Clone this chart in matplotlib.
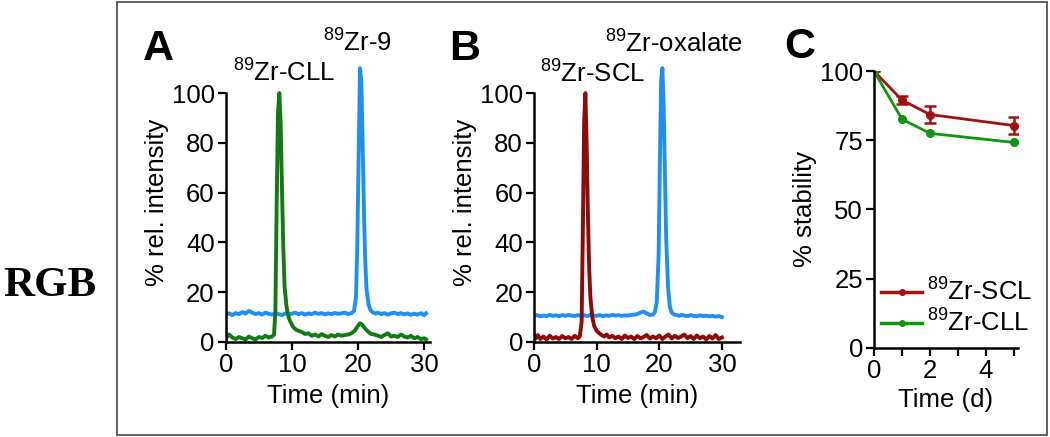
import matplotlib
matplotlib.use('Agg')
import matplotlib.pyplot as plt
from matplotlib.patches import Rectangle
from matplotlib.lines import Line2D
from matplotlib.ticker import MultipleLocator

plt.rcParams['font.family'] = ['Liberation Sans', 'DejaVu Sans']
plt.rcParams['mathtext.fontset'] = 'custom'
plt.rcParams['mathtext.rm'] = 'Liberation Sans'
plt.rcParams['mathtext.it'] = 'Liberation Sans'

# Panel A: 89Zr-9 (blue) and 89Zr-CLL (green) radio-HPLC traces
a_blue_t = [0, 0.5, 1, 1.5, 2, 2.5, 3, 3.5, 4, 4.5,
            5, 5.5, 6, 6.5, 7, 7.5, 8, 8.5, 9, 9.5,
            10, 10.5, 11, 11.5, 12, 12.5, 13, 13.5, 14, 14.5,
            15, 15.5, 16, 16.5, 17, 17.5, 18, 18.5, 19, 19.4,
            19.7, 19.9, 20.1, 20.3, 20.5, 20.7, 20.9, 21.1, 21.3, 21.6,
            21.9, 22.3, 22.7, 23, 23.5, 24, 24.5, 25, 25.5, 26,
            26.5, 27, 27.5, 28, 28.5, 29, 29.5, 30, 30.3]
a_blue_v = [11, 11.5, 10.8, 11.6, 11.2, 12, 11.4, 12.5, 11.8, 11.2,
            11.6, 11, 11.8, 11.3, 11, 11.6, 11.2, 10.8, 11.5, 11,
            11.4, 11.8, 11.2, 11.6, 11, 11.5, 11.2, 11.8, 11.3, 11.6,
            11.1, 11.5, 11.2, 11.7, 11.3, 11.5, 11.8, 11.2, 11.6, 12.5,
            18, 40, 75, 110, 105, 80, 52, 32, 21, 15,
            12.8, 11.8, 11.4, 11.8, 11.2, 11.6, 11, 11.5, 11.8, 11.2,
            11.6, 11.1, 11.5, 10.9, 11.4, 11, 11.6, 10.8, 11.5]

a_green_t = [0, 0.5, 1, 1.5, 2, 2.5, 3, 3.5, 4, 4.5,
             5, 5.5, 6, 6.5, 7, 7.3, 7.5, 7.7, 7.9, 8.1,
             8.3, 8.5, 8.7, 8.9, 9.2, 9.5, 9.8, 10.2, 10.6, 11,
             11.5, 12, 12.5, 13, 13.5, 14, 14.5, 15, 15.5, 16,
             16.5, 17, 17.5, 18, 18.5, 19, 19.5, 20, 20.3, 20.6,
             20.9, 21.2, 21.6, 22, 22.5, 23, 23.5, 24, 24.5, 25,
             25.5, 26, 26.5, 27, 27.5, 28, 28.5, 29, 29.5, 30,
             30.3]
a_green_v = [1.5, 3, 1.8, 1.2, 2, 1.5, 1, 2.2, 1.5, 1,
             2, 1.6, 2.5, 1.8, 2.2, 3, 12, 55, 92, 100,
             88, 62, 38, 22, 14, 10, 8, 6, 5, 4.5,
             4, 3.2, 3.5, 2.5, 3, 2.2, 3.2, 2.5, 2, 2.8,
             2.2, 3, 2.5, 2.8, 3, 3.5, 4.5, 6.5, 7.5, 7,
             6, 5, 4, 3.2, 3, 2.5, 2, 2.8, 3.5, 2.2,
             2.5, 2, 3, 2.2, 1.8, 2.5, 1.5, 2, 1.2, 1.5,
             1]

# Panel B: 89Zr-oxalate (blue) and 89Zr-SCL (red)
b_blue_t = [0, 0.5, 1, 1.5, 2, 2.5, 3, 3.5, 4, 4.5,
            5, 5.5, 6, 6.5, 7, 7.5, 8, 8.5, 9, 9.5,
            10, 10.5, 11, 11.5, 12, 12.5, 13, 13.5, 14, 14.5,
            15, 15.5, 16, 16.5, 17, 17.5, 18, 18.5, 19, 19.3,
            19.6, 19.9, 20.1, 20.3, 20.5, 20.7, 20.9, 21.1, 21.4, 21.7,
            22, 22.4, 22.8, 23.2, 23.6, 24, 24.5, 25, 25.5, 26,
            26.5, 27, 27.5, 28, 28.5, 29, 29.5, 30]
b_blue_v = [10.5, 10.8, 10.3, 10.6, 10.4, 10.9, 10.5, 10.7, 10.4, 10.8,
            10.5, 10.9, 10.6, 10.4, 10.8, 10.5, 10.7, 10.4, 10.9, 10.6,
            10.5, 10.8, 10.4, 10.7, 10.5, 10.9, 10.6, 10.8, 10.5, 10.7,
            10.6, 10.9, 11, 11.2, 11.8, 12.2, 11.5, 10.9, 11, 12,
            16, 35, 72, 105, 110, 95, 68, 42, 22, 14,
            11.8, 11, 10.8, 10.5, 10.9, 10.6, 10.4, 10.8, 10.5, 10.3,
            10.7, 10.4, 10.6, 10.3, 10.5, 10.2, 10.4, 10]

b_red_t = [0, 0.3, 0.6, 1, 1.5, 2, 2.5, 3, 3.5, 4,
           4.5, 5, 5.5, 6, 6.5, 7, 7.3, 7.6, 7.8, 8.0,
           8.2, 8.4, 8.6, 8.8, 9.0, 9.3, 9.6, 10, 10.4, 10.8,
           11.2, 11.6, 12, 12.5, 13, 13.5, 14, 14.5, 15, 15.5,
           16, 16.5, 17, 17.5, 18, 18.5, 19, 19.5, 20, 20.5,
           21, 21.5, 22, 22.5, 23, 23.5, 24, 24.5, 25, 25.5,
           26, 26.5, 27, 27.5, 28, 28.5, 29, 29.5, 30]
b_red_v = [3, 1.5, 2.8, 1.2, 2.2, 1, 2.5, 1.4, 2, 1.2,
           2.4, 1.5, 2, 1.2, 2.5, 1.5, 2.2, 8, 45, 88,
           100, 80, 52, 30, 18, 10, 6.5, 4.5, 3.5, 2.8,
           2.2, 3, 1.8, 2.5, 1.5, 2.2, 1.2, 2.6, 1.6, 2.2,
           1.2, 2.4, 1.5, 2, 2.8, 1.4, 2.2, 1.5, 2.6, 1.2,
           2.2, 3, 1.4, 2.5, 1.6, 2.2, 3, 1.5, 2.4, 1.2,
           2.6, 1.5, 2.2, 1, 2.4, 1.4, 2.8, 1.2, 1.8]

# Panel C: serum stability over time
days = [0, 1, 2, 5]
scl_stab = [100, 89.5, 84.3, 80.3]
scl_err = [0, 1.5, 3, 3]
cll_stab = [100, 82.6, 77.5, 74.2]
cll_err = [0, 0.6, 0.6, 0.6]

BLUE = '#1f8ef5'
GREEN = '#137a13'
RED = '#8c0a0a'
C_GREEN = '#129412'
C_RED = '#a01212'
FS = 18.5


def style_axes(ax):
    for side in ('top', 'right'):
        ax.spines[side].set_visible(False)
    for side in ('left', 'bottom'):
        ax.spines[side].set_linewidth(1.8)
    ax.tick_params(direction='out', length=6, width=1.6, labelsize=FS, pad=2)


def chromatogram(ax, t1, v1, c1, t2, v2, c2, xmax):
    ax.plot(t1, v1, color=c1, lw=2.8, solid_joinstyle='round')
    ax.plot(t2, v2, color=c2, lw=2.8, solid_joinstyle='round')
    ax.set_xlim(0, xmax)
    ax.set_ylim(0, 112)
    ax.spines['left'].set_bounds(0, 100)
    ax.set_xticks([0, 10, 20, 30])
    ax.set_yticks([0, 20, 40, 60, 80, 100])
    ax.set_xlabel('Time (min)', fontsize=FS, labelpad=5)
    ax.set_ylabel('% rel. intensity', fontsize=FS, labelpad=2)
    style_axes(ax)


fig = plt.figure(figsize=(10.5, 4.37), dpi=100)

fig.patches.append(Rectangle((117 / 1050, 2 / 437), 930 / 1050, 433 / 437,
                             transform=fig.transFigure, fill=False,
                             edgecolor='#555555', lw=1.3))
fig.text(3 / 1050, 1 - 286 / 437, 'RGB', family='Liberation Serif',
         weight='bold', fontsize=31, va='center', ha='left')

axA = fig.add_axes([0.215, 0.2174, 0.1946, 0.638])
chromatogram(axA, a_blue_t, a_blue_v, BLUE, a_green_t, a_green_v, GREEN, 30.9)

axB = fig.add_axes([0.5086, 0.2174, 0.1962, 0.638])
chromatogram(axB, b_blue_t, b_blue_v, BLUE, b_red_t, b_red_v, RED, 32.9)

axC = fig.add_axes([0.8324, 0.2043, 0.1371, 0.633])
axC.errorbar(days, scl_stab, yerr=scl_err, color=C_RED, lw=2, marker='o',
             ms=5.5, capsize=4, capthick=1.8, elinewidth=1.8)
axC.errorbar(days, cll_stab, yerr=cll_err, color=C_GREEN, lw=2, marker='o',
             ms=5.5, capsize=0, elinewidth=1.5)
axC.set_xlim(0, 5.14)
axC.set_ylim(0, 100)
axC.set_xticks([0, 2, 4])
axC.xaxis.set_minor_locator(MultipleLocator(1))
axC.set_yticks([0, 25, 50, 75, 100])
axC.set_xlabel('Time (d)', fontsize=FS, labelpad=4)
axC.set_ylabel('% stability', fontsize=FS, labelpad=2)
style_axes(axC)
axC.tick_params(which='minor', direction='out', length=6, width=1.6)
handles = [Line2D([], [], color=C_RED, lw=2.5, marker='o', ms=4),
           Line2D([], [], color=C_GREEN, lw=2.5, marker='o', ms=4)]
axC.legend(handles, [r'$^{89}$Zr-SCL', r'$^{89}$Zr-CLL'],
           loc='lower left', bbox_to_anchor=(0.05, 0.04), frameon=False,
           fontsize=FS, handlelength=1.6, handletextpad=0.2,
           labelspacing=0.15, borderaxespad=0, borderpad=0)

# panel letters and peak labels
fig.text(143 / 1050, 1 - 60 / 437, 'A', fontsize=31, weight='bold')
fig.text(449 / 1050, 1 - 60 / 437, 'B', fontsize=31, weight='bold')
fig.text(784 / 1050, 1 - 58 / 437, 'C', fontsize=31, weight='bold')
fig.text(233 / 1050, 1 - 82 / 437, r'$^{89}$Zr-CLL', fontsize=FS)
fig.text(323 / 1050, 1 - 52 / 437, r'$^{89}$Zr-9', fontsize=FS)
fig.text(540 / 1050, 1 - 83 / 437, r'$^{89}$Zr-SCL', fontsize=FS)
fig.text(605 / 1050, 1 - 53 / 437, r'$^{89}$Zr-oxalate', fontsize=FS)

fig.savefig('out.png', dpi=100)
